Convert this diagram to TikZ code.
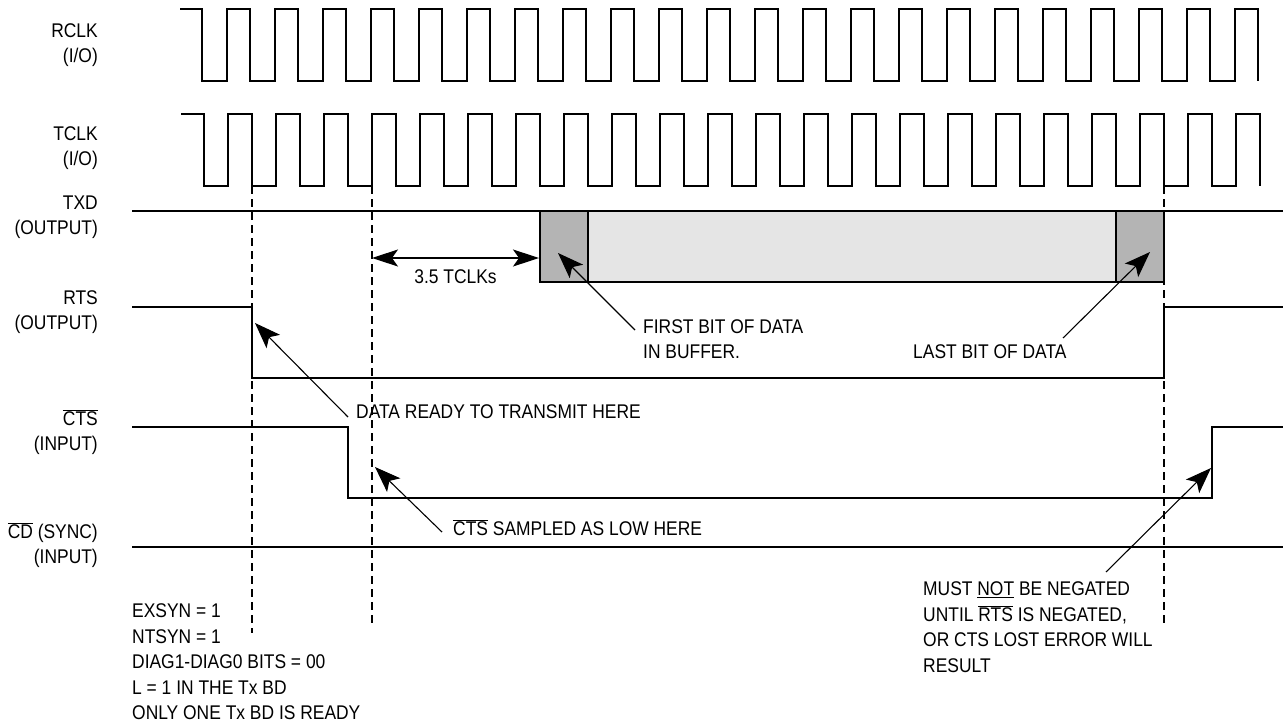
\documentclass[tikz,border=0pt]{standalone}
\usepackage{fontspec}
\setmainfont[FakeStretch=0.88]{Liberation Sans}
\usepackage{tikz}
\usetikzlibrary{arrows.meta, positioning}
\definecolor{bitdark}{RGB}{180,180,180}
\definecolor{bitlight}{RGB}{229,229,229}
\newcommand{\ovl}[1]{\ensuremath{\overline{\mbox{#1}}}}

\begin{document}
\begin{tikzpicture}[x=1pt, y=-1pt,
    every node/.style={font=\fontsize{19.8}{25.5}\selectfont},
    wave/.style={line width=2pt, line join=miter},
    guide/.style={line width=1.1pt, dash pattern=on 8pt off 5pt},
    callout/.style={line width=1.1pt, -{Stealth[length=26pt, width=19pt, inset=6pt]}},
    sig/.style={anchor=east, align=right, inner sep=0pt},
    note/.style={anchor=west, align=left, inner sep=0pt}]
    \useasboundingbox (0,0) rectangle (1285,723);

    % Signal names
    \node[sig] (rclk) at (98,45) {RCLK\\(I/O)};
    \node[sig] (tclk) at (98,148) {TCLK\\(I/O)};
    \node[sig] (txd) at (98,217) {TXD\\(OUTPUT)};
    \node[sig] (rts) at (98,312) {RTS\\(OUTPUT)};
    \node[sig] (cts) at (98,432) {\ovl{CTS}\\(INPUT)};
    \node[sig] (cd) at (98,545) {\ovl{CD} (SYNC)\\(INPUT)};

    % Guides
    \foreach \gx/\gy in {252/633, 372/627, 1164/627}
        \draw[guide] (\gx,186) -- (\gx,\gy);

    % RCLK
    \draw[wave] (180,9) foreach \k in {0,...,21} {
        -- ({202+48*\k},9) -- ({202+48*\k},81) -- ({227+48*\k},81) -- ({227+48*\k},9)
    } -- (1258,9) -- (1258,81);

    % TCLK
    \draw[wave] (181,114) foreach \k in {0,...,21} {
        -- ({204+48*\k},114) -- ({204+48*\k},186) -- ({228+48*\k},186) -- ({228+48*\k},114)
    } -- (1260,114) -- (1260,186);

    % TXD
    \draw[wave] (132,211) -- (540,211);
    \draw[wave] (1164,211) -- (1283,211);
    \draw[wave, fill=bitlight] (540,211) rectangle (1164,282);
    \draw[wave, fill=bitdark] (540,211) rectangle (588,282);
    \draw[wave, fill=bitdark] (1116,211) rectangle (1164,282);

    % RTS
    \draw[wave] (132,307) -- (252,307) -- (252,378) -- (1164,378) -- (1164,307) -- (1283,307);

    % CTS
    \draw[wave] (132,427) -- (348,427) -- (348,498) -- (1212,498) -- (1212,427) -- (1283,427);

    % CD
    \draw[wave] (132,547) -- (1283,547);

    % Delay
    \coordinate (gapl) at (372,258);
    \coordinate (gapr) at (539,258);
    \draw[line width=1.1pt, {Stealth[length=26pt, width=17pt, inset=6pt]}-{Stealth[length=26pt, width=17pt, inset=6pt]}]
        (gapl) -- (gapr) node[midway, below=8pt] (gaplbl) {3.5 TCLKs};

    % Callouts
    \node[note] (first) at (643,339) {FIRST BIT OF DATA\\IN BUFFER.};
    \coordinate (firstfoot) at (635,330);
    \coordinate (firsttip) at (558,253);
    \draw[callout] (firstfoot) -- (firsttip);

    \node[note] (last) at (913,352) {LAST BIT OF DATA};
    \coordinate (lastfoot) at (1063,338);
    \coordinate (lasttip) at (1150,252);
    \draw[callout] (lastfoot) -- (lasttip);

    \node[note] (ready) at (356,412) {DATA READY TO TRANSMIT HERE};
    \coordinate (readyfoot) at (348,417);
    \coordinate (readytip) at (255,323);
    \draw[callout] (readyfoot) -- (readytip);

    \node[note] (sampled) at (453,528) {\ovl{CTS} SAMPLED AS LOW HERE};
    \coordinate (sampledfoot) at (442,532);
    \coordinate (sampledtip) at (375,467);
    \draw[callout] (sampledfoot) -- (sampledtip);

    \node[note] (negate) at (923,627) {MUST \underline{NOT} BE NEGATED\\UNTIL \ovl{RTS} IS NEGATED,\\OR CTS LOST ERROR WILL\\RESULT};
    \coordinate (negatefoot) at (1106,572);
    \coordinate (negatetip) at (1211,468);
    \draw[callout] (negatefoot) -- (negatetip);

    % Mode settings
    \node[note] (mode) at (132,662) {EXSYN = 1\\NTSYN = 1\\DIAG1-DIAG0 BITS = 00\\L = 1 IN THE Tx BD\\ONLY ONE Tx BD IS READY};
\end{tikzpicture}
\end{document}
